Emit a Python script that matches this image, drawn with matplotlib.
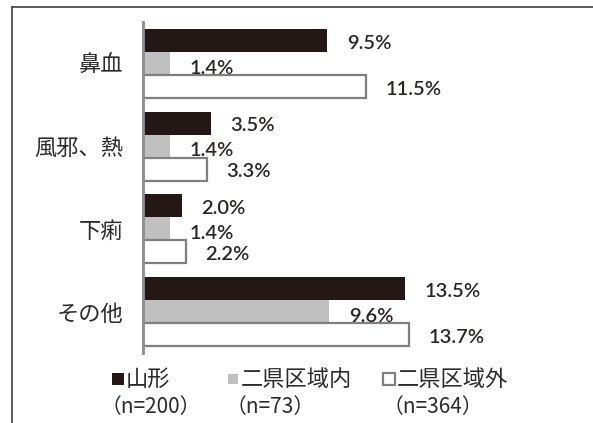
import matplotlib
matplotlib.use("Agg")
import matplotlib.pyplot as plt
from matplotlib.patches import Rectangle
import numpy as np

plt.rcParams['font.family'] = ['Noto Sans CJK JP', 'DejaVu Sans']

# Symptoms and the share (%) reported by each group
categories = ["鼻血", "風邪、熱", "下痢", "その他"]
yamagata = [9.5, 3.5, 2.0, 13.5]
inside_area = [1.4, 1.4, 1.4, 9.6]
outside_area = [11.5, 3.3, 2.2, 13.7]

series_names = ["山形", "二県区域内", "二県区域外"]
series_counts = ["（n=200）", "（n=73）", "（n=364）"]

W, H = 593, 423
fig = plt.figure(figsize=(W / 100, H / 100), dpi=100)

# Outer frame (top and left edges visible)
fig.add_artist(plt.Line2D([12 / W, 12 / W], [0, 1 - 7 / H], color="#4d4d4d", lw=1.3))
fig.add_artist(plt.Line2D([12 / W, 1], [1 - 7 / H, 1 - 7 / H], color="#4d4d4d", lw=1.3))

ax_left, ax_right = 143, 593
ax_top, ax_bottom = 22, 353
ax = fig.add_axes([ax_left / W, 1 - ax_bottom / H, (ax_right - ax_left) / W, (ax_bottom - ax_top) / H])

px_per_pct = 19.4
ax.set_xlim(0, (ax_right - ax_left) / px_per_pct)
ax.set_ylim(len(categories) - 0.5, -0.5)

y = np.arange(len(categories))
h = 0.277
colors = ["#231815", "#c0c0c0", "white"]
edges = ["#231815", "#c0c0c0", "#7f7f7f"]
lws = [0, 0, 1.6]
series = [yamagata, inside_area, outside_area]
offsets = [-h, 0, h]
label_dy = [-2, -3.5, -2]

for vals, off, c, ec, lw, dy in zip(series, offsets, colors, edges, lws, label_dy):
    bars = ax.barh(y + off, vals, height=h, color=c, edgecolor=ec, linewidth=lw, zorder=2)
    for b, v in zip(bars, vals):
        ax.annotate(f"{v:.1f}%", xy=(v, b.get_y() + b.get_height() / 2),
                    xytext=(14, dy), textcoords="offset points",
                    ha="left", va="center", fontsize=14.5, family=["Lato", "DejaVu Sans"],
                    fontweight="semibold", color="#2b2523", zorder=5)

ax.set_yticks(y)
ax.set_yticklabels(categories, fontsize=16, color="#2b2b2b")
ax.tick_params(axis="y", length=0, pad=14)
ax.set_xticks([])
for s in ["top", "right", "bottom"]:
    ax.spines[s].set_visible(False)
ax.spines["left"].set_color("#8c8c8c")
ax.spines["left"].set_linewidth(2)
ax.set_facecolor("none")

# Legend drawn by hand: swatch + name on first line, sample size below
swatch_x = [112, 228, 383]
swatch_size = [12, 10, 12]
name_x = [126, 241, 397]
count_x = [101, 226, 383]
row1_y, row2_y = 379, 407
for i in range(3):
    s = swatch_size[i]
    fig.add_artist(Rectangle((swatch_x[i] / W, 1 - (row1_y + s / 2) / H), s / W, s / H,
                             transform=fig.transFigure, facecolor=colors[i],
                             edgecolor=edges[i], linewidth=1.6 if i == 2 else 0))
    fig.text(name_x[i] / W, 1 - row1_y / H, series_names[i], fontsize=16,
             ha="left", va="center", color="#2b2b2b")
    fig.text(count_x[i] / W, 1 - row2_y / H, series_counts[i], fontsize=15,
             ha="left", va="center", color="#2b2b2b")

fig.savefig("out.png", dpi=100)
